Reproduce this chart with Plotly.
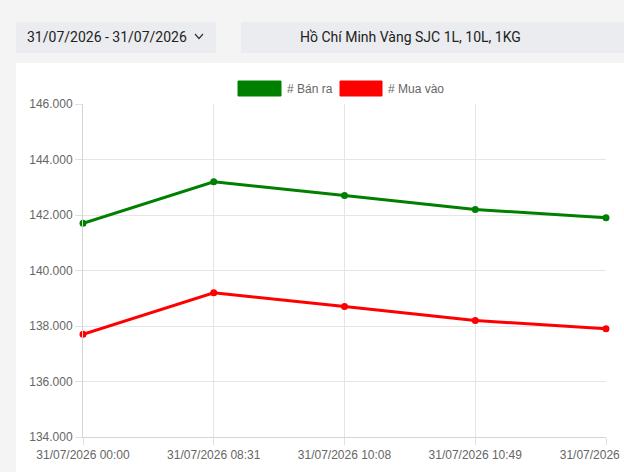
import plotly.graph_objects as go

categories = ["31/07/2026 00:00", "31/07/2026 08:31", "31/07/2026 10:08", "31/07/2026 10:49", "31/07/2026 11:30"]
ban_ra = [141700, 143200, 142700, 142200, 141900]
mua_vao = [137700, 139200, 138700, 138200, 137900]
series_names = ["# Bán ra", "# Mua vào"]
series_colors = ["#008000", "#ff0000"]
date_range_label = "31/07/2026 - 31/07/2026"
product_label = "Hồ Chí Minh Vàng SJC 1L, 10L, 1KG"

W, H = 624, 472
L, R, T, B = 83, 18, 104, 35
PW, PH = W - L - R, H - T - B
CHART_FONT = "Liberation Sans, Arial, sans-serif"

def px(x):
    return (x - L) / PW

def py(y):
    return (H - B - y) / PH

fig = go.Figure()
for name, vals, col in zip(series_names, [ban_ra, mua_vao], series_colors):
    fig.add_trace(go.Scatter(
        x=categories, y=vals, name=name, mode="lines+markers",
        line=dict(color=col, width=3),
        marker=dict(color=col, size=7),
        cliponaxis=False, showlegend=False,
    ))

shapes = []
annotations = []
# white panel
shapes.append(dict(type="rect", xref="paper", yref="paper", x0=px(16), x1=px(640), y0=py(63), y1=py(480),
                   fillcolor="white", line=dict(width=0), layer="below"))
# header boxes
shapes.append(dict(type="rect", xref="paper", yref="paper", x0=px(16), x1=px(216), y0=py(22), y1=py(53),
                   fillcolor="#ebecf0", line=dict(width=0), layer="below"))
shapes.append(dict(type="rect", xref="paper", yref="paper", x0=px(241), x1=px(640), y0=py(22), y1=py(53),
                   fillcolor="#ebecf0", line=dict(width=0), layer="below"))
# chevron
shapes.append(dict(type="path", xref="paper", yref="paper",
                   path=f"M {px(195)} {py(34)} L {px(199)} {py(38.5)} L {px(203)} {py(34)}",
                   line=dict(color="#333333", width=1.2)))
annotations.append(dict(xref="paper", yref="paper", x=px(25), y=py(37.5), text=date_range_label,
                        showarrow=False, xanchor="left", yanchor="middle",
                        font=dict(size=14, color="#222222", family="Roboto")))
annotations.append(dict(xref="paper", yref="paper", x=px(298), y=py(37.5), text=product_label,
                        showarrow=False, xanchor="left", yanchor="middle",
                        font=dict(size=14, color="#222222", family="Roboto")))
# legend
leg = [(238, 281, 285), (340, 382, 386)]
for (bx0, bx1, tx), name, col in zip(leg, series_names, series_colors):
    shapes.append(dict(type="rect", xref="paper", yref="paper", x0=px(bx0), x1=px(bx1), y0=py(81), y1=py(96),
                       fillcolor=col, line=dict(width=1, color=col)))
    annotations.append(dict(xref="paper", yref="paper", x=px(tx), y=py(88.5), text=name,
                            showarrow=False, xanchor="left", yanchor="middle",
                            font=dict(size=12, color="#666666", family=CHART_FONT)))

fig.update_layout(
    width=W, height=H,
    margin=dict(l=L, r=R, t=T, b=B, autoexpand=False),
    paper_bgcolor="#f4f4f5", plot_bgcolor="white",
    separators=",.",
    font=dict(family=CHART_FONT, size=12, color="#666666"),
    shapes=shapes, annotations=annotations,
    xaxis=dict(type="category", range=[0, len(categories) - 1], showgrid=True, gridcolor="#e5e5e5",
               ticks="outside", ticklen=7, tickcolor="#e0e0e0", showline=True, linecolor="#d5d5d5",
               tickfont=dict(size=12, color="#666666"), fixedrange=True, automargin=False),
    yaxis=dict(range=[134000, 146000], dtick=2000, tickformat=",.0f", showgrid=True, gridcolor="#e5e5e5",
               ticks="outside", ticklen=7, tickcolor="#e0e0e0", showline=True, linecolor="#d5d5d5",
               zeroline=False, tickfont=dict(size=12, color="#666666"), fixedrange=True, automargin=False),
)

fig.write_html("out.html", config={"displayModeBar": False},
               post_script="document.body.style.margin='0';document.body.style.background='#f4f4f5';")
